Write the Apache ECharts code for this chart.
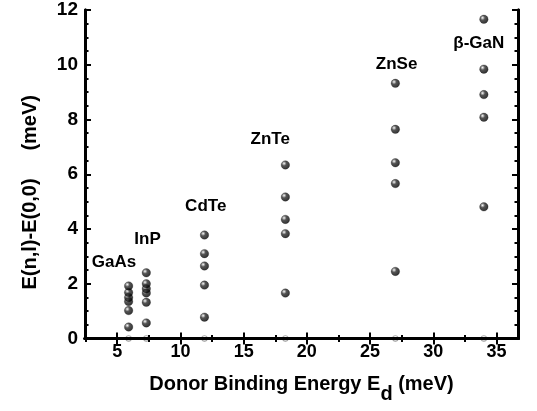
<!DOCTYPE html>
<html>
<head>
<meta charset="utf-8">
<script src="https://cdn.jsdelivr.net/npm/echarts@6/dist/echarts.min.js"></script>
<style>
  html, body { margin: 0; padding: 0; background: #fff; }
  #chart { width: 537px; height: 411px; }
</style>
</head>
<body>
<div id="chart"></div>
<script>
// Material names and their donor binding energies (meV)
const materials = ['GaAs', 'InP', 'CdTe', 'ZnTe', 'ZnSe', 'β-GaN'];
const bindingEnergy = [5.9, 7.3, 11.9, 18.3, 27.0, 34.0];

// Level spacings E(n,l)-E(0,0) in meV for each material
const gaasLevels = [0, 0.42, 1.02, 1.35, 1.5, 1.68, 1.92];
const inpLevels = [0, 0.57, 1.32, 1.66, 1.82, 2.0, 2.4];
const cdteLevels = [0, 0.78, 1.95, 2.65, 3.1, 3.78];
const znteLevels = [0, 1.66, 3.83, 4.35, 5.17, 6.34];
const znseLevels = [0, 2.45, 5.66, 6.42, 7.64, 9.32];
const ganLevels = [0, 4.81, 8.08, 8.91, 9.84, 11.66];
const levels = [gaasLevels, inpLevels, cdteLevels, znteLevels, znseLevels, ganLevels];

// Anchor points (data coordinates) for the material name tags
const tagX = [4.75, 7.4, 12.0, 17.1, 27.1, 33.6];
const tagY = [2.8, 3.63, 4.84, 7.26, 10.0, 10.79];

// Tick values
const xMajorTicks = [5, 10, 15, 20, 25, 30, 35];
const xMinorTicks = [2.5, 7.5, 12.5, 17.5, 22.5, 27.5, 32.5];
const yMajorTicks = [0, 2, 4, 6, 8, 10, 12];
const yMinorTicks = [0.5, 1, 1.5, 2.5, 3, 3.5, 4.5, 5, 5.5, 6.5, 7, 7.5, 8.5, 9, 9.5, 10.5, 11, 11.5];

const FONT = 'Liberation Sans, Arial, Helvetica, sans-serif';
const X_MIN = 2.45, X_MAX = 36.7, Y_MIN = 0, Y_MAX = 12;

// Shiny black ball
const sphere = {
  type: 'radial', x: 0.35, y: 0.33, r: 0.68,
  colorStops: [
    { offset: 0, color: '#ffffff' },
    { offset: 0.14, color: '#b0b0b0' },
    { offset: 0.4, color: '#2a2a2a' },
    { offset: 1, color: '#000000' }
  ]
};
// Points sitting on the baseline are mostly hidden by the frame
const baseBall = {
  type: 'radial', x: 0.5, y: 0.3, r: 0.6,
  colorStops: [
    { offset: 0, color: '#ffffff' },
    { offset: 1, color: '#bdbdbd' }
  ]
};

const frameLine = { show: true, lineStyle: { color: '#000', width: 3 } };

function xAxisDef(opts) {
  return Object.assign({
    type: 'value', min: X_MIN, max: X_MAX, gridIndex: 0, z: 10,
    splitLine: { show: false },
    axisLine: frameLine
  }, opts);
}
function yAxisDef(opts) {
  return Object.assign({
    type: 'value', min: Y_MIN, max: Y_MAX, gridIndex: 0, z: 10,
    splitLine: { show: false },
    axisLine: frameLine
  }, opts);
}

const majorTick = (vals) => ({ show: true, inside: true, length: 6, lineStyle: { width: 2, color: '#000' }, customValues: vals });
const minorTick = (vals) => ({ show: true, inside: true, length: 3.5, lineStyle: { width: 2, color: '#000' }, customValues: vals });

const xAxes = [
  xAxisDef({
    position: 'bottom',
    axisTick: majorTick(xMajorTicks),
    axisLabel: {
      customValues: xMajorTicks, margin: 5,
      color: '#000', fontFamily: FONT, fontWeight: 'bold', fontSize: 18
    },
    name: '{t|Donor Binding Energy E}{s|d}{t| (meV)}',
    nameLocation: 'middle', nameGap: 36,
    nameTextStyle: {
      rich: {
        t: { fontFamily: FONT, fontWeight: 'bold', fontSize: 20, color: '#000' },
        s: { fontFamily: FONT, fontWeight: 'bold', fontSize: 20, color: '#000', verticalAlign: 'bottom', padding: [0, 0, -10, 0] }
      }
    }
  }),
  xAxisDef({ position: 'bottom', axisTick: minorTick(xMinorTicks), axisLabel: { show: false } }),
  xAxisDef({ position: 'top', axisTick: majorTick(xMajorTicks), axisLabel: { show: false } }),
  xAxisDef({ position: 'top', axisTick: minorTick(xMinorTicks), axisLabel: { show: false } })
];

const yAxes = [
  yAxisDef({
    position: 'left',
    axisTick: majorTick(yMajorTicks),
    axisLabel: {
      customValues: yMajorTicks, margin: 7,
      color: '#000', fontFamily: FONT, fontWeight: 'bold', fontSize: 19
    },
    name: 'E(n,l)-E(0,0)     (meV)',
    nameLocation: 'middle', nameGap: 45, nameRotate: 90,
    nameTextStyle: {
      fontFamily: FONT, fontWeight: 'bold', fontSize: 20, color: '#000',
      padding: [0, 36, 0, 0]
    }
  }),
  yAxisDef({ position: 'left', axisTick: minorTick(yMinorTicks), axisLabel: { show: false } }),
  yAxisDef({ position: 'right', axisTick: majorTick(yMajorTicks), axisLabel: { show: false } }),
  yAxisDef({ position: 'right', axisTick: minorTick(yMinorTicks), axisLabel: { show: false } })
];

// One scatter series per material
const series = materials.map((name, i) => ({
  name: name,
  type: 'scatter',
  xAxisIndex: 0, yAxisIndex: 0,
  symbol: 'circle',
  symbolSize: (v) => (v[1] === 0 ? 6 : 8.5),
  z: 2,
  clip: false,
  itemStyle: {
    color: (p) => (p.value[1] === 0 ? baseBall : sphere),
    borderColor: '#000', borderWidth: 0.3
  },
  data: levels[i].map(v => [bindingEnergy[i], v])
}));

// Material name tags
series.push({
  type: 'scatter',
  xAxisIndex: 0, yAxisIndex: 0,
  symbolSize: 0,
  itemStyle: { color: '#000', opacity: 1 },
  silent: true,
  z: 6,
  label: {
    show: true, position: 'inside', opacity: 1,
    formatter: p => materials[p.dataIndex],
    color: '#000', textBorderWidth: 0,
    fontFamily: FONT, fontWeight: 'bold', fontSize: 17
  },
  data: materials.map((m, i) => [tagX[i], tagY[i]])
});

const chart = echarts.init(document.getElementById('chart'), null, { renderer: 'canvas' });
chart.setOption({
  animation: false,
  backgroundColor: '#fff',
  grid: { left: 85, right: 19, top: 10, bottom: 72.5, containLabel: false },
  xAxis: xAxes,
  yAxis: yAxes,
  series: series
});
</script>
</body>
</html>
